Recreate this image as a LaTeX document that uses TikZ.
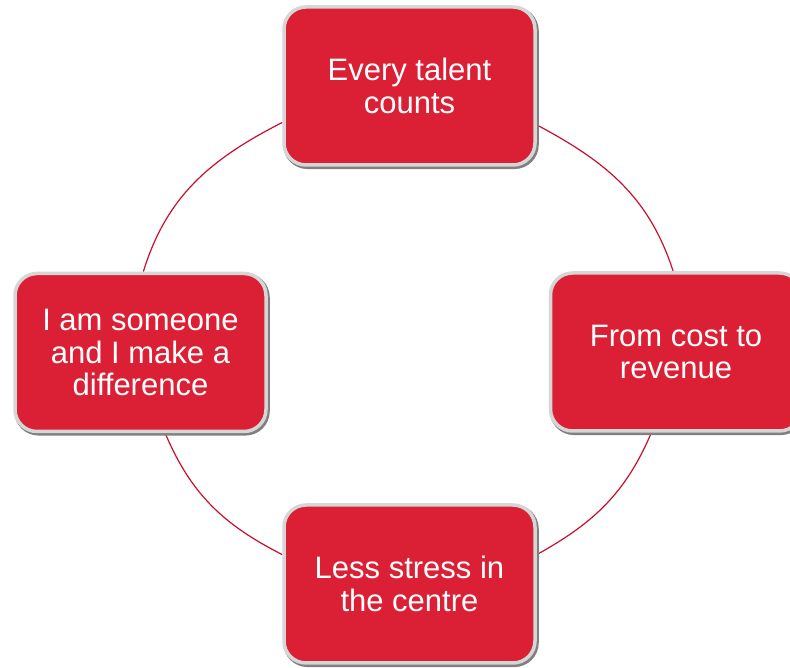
\documentclass[tikz,border=0pt]{standalone}
\usepackage{fontspec}
\setmainfont{Liberation Sans}
\usetikzlibrary{backgrounds}
\definecolor{boxred}{HTML}{DB1F35}
\definecolor{linered}{HTML}{C8102E}
\tikzset{
  cyclebox/.style={rectangle, rounded corners=22pt, minimum width=251pt, minimum height=158pt,
    fill=boxred, draw=black!16, line width=3.5pt, text=white, align=center,
    font=\fontsize{31}{32.5}\selectfont,
    preaction={draw=black!50, line width=4.5pt, transform canvas={shift={(1.5pt,-1.8pt)}}}},
  cycleline/.style={draw=linered, line width=1.2pt}
}
\begin{document}
\begin{tikzpicture}[x=1pt,y=1pt]
\clip (0,0) rectangle (790,668);
\node[cyclebox] (top) at (409.5,582) {Every talent\\counts};
\node[cyclebox] (left) at (140.5,315.5) {I am someone\\and I make a\\difference};
\node[cyclebox] (right) at (676,316) {From cost to\\revenue};
\node[cyclebox] (bottom) at (409.5,84) {Less stress in\\the centre};
\begin{pgfonlayer}{background}
\fill[white] (0,0) rectangle (790,668);
\draw[cycleline] (top.196) to[out=207,in=73] (left.88);
\draw[cycleline] (top.-17) to[out=-28,in=108] (right.92);
\draw[cycleline] (left.-73) to[out=-67,in=153] (bottom.167);
\draw[cycleline] (right.-107) to[out=247,in=29] (bottom.13);
\end{pgfonlayer}
\end{tikzpicture}
\end{document}
